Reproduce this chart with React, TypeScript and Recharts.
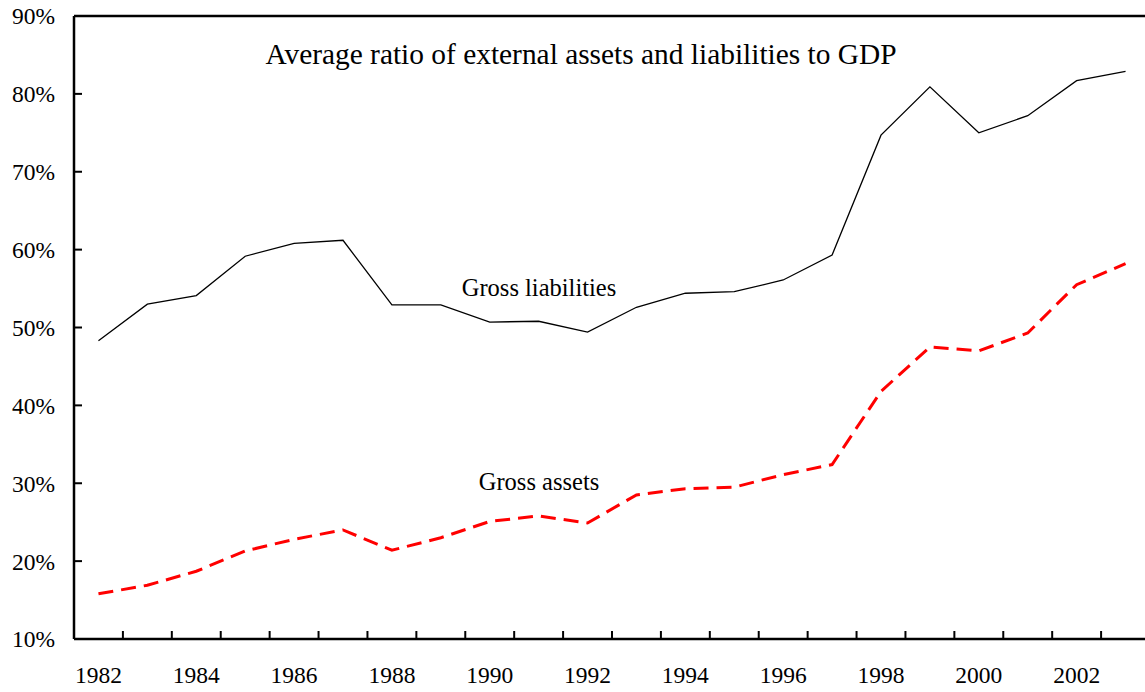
import { Line, LineChart, ReferenceLine, XAxis, YAxis } from "recharts";

const years = [
  1982, 1983, 1984, 1985, 1986, 1987, 1988, 1989, 1990, 1991, 1992, 1993, 1994, 1995, 1996, 1997,
  1998, 1999, 2000, 2001, 2002, 2003
];
const grossLiabilities = [
  48.3, 53.0, 54.1, 59.15, 60.8, 61.2, 52.9, 52.9, 50.7, 50.8, 49.4, 52.6, 54.4, 54.6, 56.1, 59.3,
  74.7, 80.9, 75.0, 77.2, 81.7, 82.9
];
const grossAssets = [
  15.8, 16.9, 18.7, 21.3, 22.8, 24.0, 21.4, 23.0, 25.1, 25.8, 24.9, 28.5, 29.3, 29.5, 31.1, 32.4,
  41.8, 47.5, 47.0, 49.3, 55.5, 58.2
];
const yTicks = [10, 20, 30, 40, 50, 60, 70, 80, 90];
const xLabelYears = [1982, 1984, 1986, 1988, 1990, 1992, 1994, 1996, 1998, 2000, 2002];

const data = years.map((year, i) => ({
  year,
  liabilities: grossLiabilities[i],
  assets: grossAssets[i]
}));

// labels sit on the years, tick marks sit between the years
const xTicks = [...xLabelYears, ...years.slice(0, -1).map((y) => y + 0.5)].sort((a, b) => a - b);

const font = "'Liberation Serif', 'Times New Roman', serif";

function XTick(props: any) {
  const { x, y, payload } = props;
  const v = Number(payload.value);
  if (Number.isInteger(v)) {
    return (
      <text x={x} y={y + 44} textAnchor="middle" fontFamily={font} fontSize={23.5} fill="#000">
        {v}
      </text>
    );
  }
  return <line x1={x} x2={x} y1={y} y2={y - 8} stroke="#000" strokeWidth={2} />;
}

function YTick(props: any) {
  const { x, y, payload } = props;
  return (
    <g>
      <line x1={x} x2={x + 8} y1={y} y2={y} stroke="#000" strokeWidth={2} />
      <text x={x - 19} y={y} dy="0.36em" textAnchor="end" fontFamily={font} fontSize={23.5} fill="#000">
        {`${payload.value}%`}
      </text>
    </g>
  );
}

export default function App() {
  return (
    <div
      style={{
        position: "absolute",
        left: 0,
        top: 0,
        width: 1145,
        height: 692,
        overflow: "hidden",
        background: "#fff"
      }}
    >
      <LineChart width={1160} height={692} data={data} margin={{ top: 16, right: 10, bottom: 0, left: 0 }}>
        <XAxis
          dataKey="year"
          type="number"
          domain={[1981.5, 2003.5]}
          allowDataOverflow
          ticks={xTicks}
          interval={0}
          tick={<XTick />}
          tickLine={false}
          tickSize={0}
          tickMargin={0}
          height={53}
          axisLine={{ stroke: "#000", strokeWidth: 2.5 }}
        />
        <YAxis
          type="number"
          domain={[10, 90]}
          ticks={yTicks}
          interval={0}
          tick={<YTick />}
          tickLine={false}
          tickSize={0}
          tickMargin={0}
          width={74}
          axisLine={{ stroke: "#000", strokeWidth: 2.5 }}
        />
        <ReferenceLine y={90} stroke="#000" strokeWidth={2.5} />
        <Line
          type="linear"
          dataKey="liabilities"
          stroke="#000"
          strokeWidth={1.3}
          dot={false}
          isAnimationActive={false}
        />
        <Line
          type="linear"
          dataKey="assets"
          stroke="#ff0000"
          strokeWidth={3}
          strokeDasharray="15 8"
          dot={false}
          isAnimationActive={false}
        />
      </LineChart>
      <svg
        width={1145}
        height={692}
        style={{ position: "absolute", left: 0, top: 0, pointerEvents: "none" }}
      >
        <text x={581} y={64} textAnchor="middle" fontFamily={font} fontSize={29.4} fill="#000">
          Average ratio of external assets and liabilities to GDP
        </text>
        <text x={539} y={296} textAnchor="middle" fontFamily={font} fontSize={24.5} fill="#000">
          Gross liabilities
        </text>
        <text x={539} y={490} textAnchor="middle" fontFamily={font} fontSize={24.5} fill="#000">
          Gross assets
        </text>
      </svg>
    </div>
  );
}
